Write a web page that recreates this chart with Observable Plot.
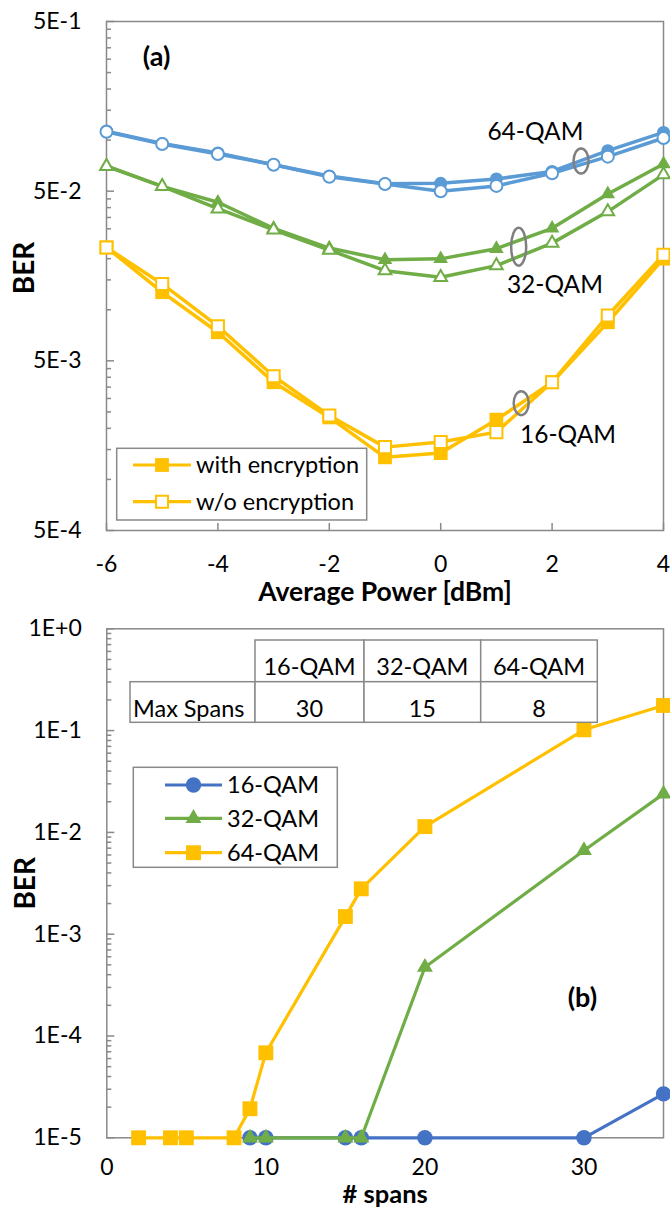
<!DOCTYPE html>
<html>
<head>
<meta charset="utf-8">
<script src="https://cdn.jsdelivr.net/npm/d3@7"></script>
<script src="https://cdn.jsdelivr.net/npm/@observablehq/plot@0.6"></script>
<style>
  html, body { margin: 0; padding: 0; background: #fff; }
  #panel-a, #panel-b { width: 670px; }
  svg { display: block; }
</style>
</head>
<body>
<div id="panel-a"></div>
<div id="panel-b"></div>
<script>
// ---------- Panel (a): BER vs average launch power ----------
const powerDbm = [-6, -5, -4, -3, -2, -1, 0, 1, 2, 3, 4];
const ber64Enc   = [0.113, 0.0955, 0.084, 0.0716, 0.0615, 0.0553, 0.0556, 0.059, 0.0654, 0.0866, 0.111];
const ber64NoEnc = [0.112, 0.0948, 0.0828, 0.0716, 0.0608, 0.0551, 0.0499, 0.0537, 0.0637, 0.0799, 0.1029];
const ber32Enc   = [0.0705, 0.0534, 0.043, 0.0302, 0.0231, 0.0197, 0.01995, 0.0229, 0.0302, 0.0481, 0.0723];
const ber32NoEnc = [0.070, 0.0534, 0.0394, 0.0296, 0.0225, 0.0170, 0.01554, 0.0182, 0.0247, 0.0379, 0.0626];
const ber16Enc   = [0.0233, 0.0127, 0.00737, 0.00374, 0.00232, 0.00135, 0.00143, 0.00225, 0.00374, 0.00844, 0.0200];
const ber16NoEnc = [0.0233, 0.0142, 0.0080, 0.00406, 0.00238, 0.00155, 0.00166, 0.0019, 0.00374, 0.00925, 0.0211];
const powerTicks = [-6, -4, -2, 0, 2, 4];
const berTicksA = [5e-4, 5e-3, 5e-2, 5e-1];
const legendA = ["with encryption", "w/o encryption"];
const groupLabelsA = ["64-QAM", "32-QAM", "16-QAM"];
const groupLabelX = [1.70, 2.05, 2.285];
const groupLabelY = [0.112, 0.01388, 0.001816];
const groupRingX = [2.52, 1.40, 1.445];
const groupRingY = [0.0753, 0.02355, 0.002815];
const groupRingRy = [12.5, 19, 12];

// ---------- Panel (b): BER vs number of spans ----------
const spans16 = [9, 10, 15, 16, 20, 30, 35];
const ber16   = [1e-5, 1e-5, 1e-5, 1e-5, 1e-5, 1e-5, 2.7e-5];
const spans32 = [9, 10, 15, 16, 20, 30, 35];
const ber32   = [1e-5, 1e-5, 1e-5, 1e-5, 4.74e-4, 6.64e-3, 2.39e-2];
const spans64 = [2, 4, 5, 8, 9, 10, 15, 16, 20, 30, 35];
const ber64   = [1e-5, 1e-5, 1e-5, 1e-5, 1.93e-5, 6.84e-5, 1.49e-3, 2.79e-3, 1.14e-2, 0.1018, 0.1765];
const spanTicks = [0, 10, 20, 30];
const berTicksB = [1e-5, 1e-4, 1e-3, 1e-2, 1e-1, 1];
const legendB = ["16-QAM", "32-QAM", "64-QAM"];
const tableHeader = ["16-QAM", "32-QAM", "64-QAM"];
const tableRowLabel = "Max Spans";
const maxSpans = [30, 15, 8];

// ---------- shared styling ----------
const FONT = "Lato, 'Open Sans', sans-serif";
const AXIS = "#898989";
const RING = "#7f7f7f";
const BLUE_A = "#5B9BD5", GREEN = "#70AD47", GOLD = "#FFC000", BLUE_B = "#4472C4";
const TICK_FONT = "23px";
const BOX_FONT = 23.5;
const TITLE_FONT = 26.5;

const rows = (xs, ys) => xs.map((x, i) => ({x, y: ys[i]}));
const sciLabel = v => {
  const e = Math.floor(Math.log10(v) + 1e-9);
  const m = Math.round(v / Math.pow(10, e));
  return `${m}E${e >= 0 ? "+" : "-"}${Math.abs(e)}`;
};
const plainLabel = d => `${d}`;
const minorTicks = majors => majors.slice(0, -1).flatMap(t => [2, 3, 4, 5, 6, 7, 8, 9].map(m => t * m));

// closed ellipse drawn as a custom dot symbol (radii in pixels)
function ellipseSymbol(rx, ry) {
  const k = 0.5523;
  return {
    draw(ctx) {
      ctx.moveTo(rx, 0);
      ctx.bezierCurveTo(rx, ry * k, rx * k, ry, 0, ry);
      ctx.bezierCurveTo(-rx * k, ry, -rx, ry * k, -rx, 0);
      ctx.bezierCurveTo(-rx, -ry * k, -rx * k, -ry, 0, -ry);
      ctx.bezierCurveTo(rx * k, -ry, rx, -ry * k, rx, 0);
      ctx.closePath();
    }
  };
}

// line + markers for one series
function series(data, color, symbol, r, filled, strokeWidth = 3.2) {
  return [
    Plot.line(data, {x: "x", y: "y", stroke: color, strokeWidth}),
    Plot.dot(data, {
      x: "x", y: "y", symbol, r,
      fill: filled ? color : "#fff",
      stroke: filled ? "none" : color,
      strokeWidth: filled ? 0 : 2
    })
  ];
}

// bold axis titles, centred on the plotting frame
const xTitle = (t, dy, size = TITLE_FONT) => Plot.text([t], {
  frameAnchor: "bottom", dy, textAnchor: "middle", lineAnchor: "middle", fontWeight: "bold", fontSize: size
});
const yTitle = (t, dy) => Plot.text([t], {
  frameAnchor: "left", dx: -81, dy, rotate: -90, textAnchor: "middle", lineAnchor: "middle", fontWeight: "bold", fontSize: 28
});

// ---------- draw panel (a) ----------
const chartA = Plot.plot({
  width: 670, height: 610,
  marginLeft: 106, marginRight: 7, marginTop: 21, marginBottom: 80,
  style: {fontFamily: FONT, fontSize: TICK_FONT, color: "#000", overflow: "visible", background: "#fff"},
  x: {domain: [-6, 4]},
  y: {type: "log", domain: [5e-4, 0.5]},
  marks: [
    Plot.frame({stroke: AXIS, strokeWidth: 1.5}),
    Plot.axisY(minorTicks(berTicksA), {tickSize: 5, dx: 5, fill: "none", stroke: AXIS, strokeWidth: 1.5, label: null}),
    Plot.axisY(berTicksA, {tickSize: 8, dx: 8, tickPadding: 25, tickFormat: sciLabel, stroke: AXIS, strokeWidth: 1.5, label: null}),
    Plot.axisX(powerTicks, {tickSize: 7, dy: -7, tickPadding: 25, tickFormat: plainLabel, stroke: AXIS, strokeWidth: 1.5, label: null}),
    xTitle("Average Power [dBm]", 62),
    yTitle("BER", -8),
    Plot.text(["(a)"], {x: -5.1, y: 0.3055, fontWeight: "bold", fontSize: 27}),
    ...series(rows(powerDbm, ber64Enc), BLUE_A, "circle", 6.5, true, 3.5),
    ...series(rows(powerDbm, ber64NoEnc), BLUE_A, "circle", 6, false, 3.5),
    ...series(rows(powerDbm, ber32Enc), GREEN, "triangle", 5.4, true, 3.5),
    ...series(rows(powerDbm, ber32NoEnc), GREEN, "triangle", 4.7, false, 3.5),
    ...series(rows(powerDbm, ber16Enc), GOLD, "square", 7.8, true, 3.5),
    ...series(rows(powerDbm, ber16NoEnc), GOLD, "square", 6.8, false, 3.5),
    ...groupRingX.map((x, i) => Plot.dot([{x, y: groupRingY[i]}], {
      x: "x", y: "y", symbol: ellipseSymbol(7.5, groupRingRy[i]), fill: "none", stroke: RING, strokeWidth: 2.5
    })),
    Plot.text(groupLabelsA.map((t, i) => ({t, x: groupLabelX[i], y: groupLabelY[i]})), {
      x: "x", y: "y", text: "t", fontSize: 24.5
    })
  ]
});
document.getElementById("panel-a").append(chartA);

// ---------- draw panel (b) ----------
const chartB = Plot.plot({
  width: 670, height: 597,
  marginLeft: 106.3, marginRight: 7, marginTop: 18.3, marginBottom: 69.7,
  style: {fontFamily: FONT, fontSize: TICK_FONT, color: "#000", overflow: "visible", background: "#fff"},
  x: {domain: [0, 35]},
  y: {type: "log", domain: [1e-5, 1]},
  marks: [
    Plot.frame({stroke: AXIS, strokeWidth: 1.5}),
    Plot.axisY(minorTicks(berTicksB), {tickSize: 5, dx: 5, fill: "none", stroke: AXIS, strokeWidth: 1.5, label: null}),
    Plot.axisY(berTicksB, {tickSize: 8, dx: 8, tickPadding: 25, tickFormat: sciLabel, stroke: AXIS, strokeWidth: 1.5, label: null}),
    Plot.axisX(spanTicks, {tickSize: 0, tickPadding: 21, tickFormat: plainLabel, label: null}),
    xTitle("# spans", 57, 25.5),
    yTitle("BER", 0),
    Plot.text(["(b)"], {x: 29.9, y: 2.33e-4, fontWeight: "bold", fontSize: 27}),
    ...series(rows(spans16, ber16), BLUE_B, "circle", 7.7, true),
    ...series(rows(spans32, ber32), GREEN, "triangle", 5.9, true),
    ...series(rows(spans64, ber64), GOLD, "square", 8.4, true)
  ]
});
document.getElementById("panel-b").append(chartB);

// ---------- legends and table ----------
const symbolPath = (type, r) => d3.symbol(type, Math.PI * r * r)();

function legendBox(svg, box, entries) {
  const g = d3.select(svg).append("g")
    .attr("font-family", FONT).attr("font-size", BOX_FONT).attr("text-anchor", "start");
  g.append("rect").attr("x", box.x).attr("y", box.y).attr("width", box.w).attr("height", box.h)
    .attr("fill", "#fff").attr("stroke", AXIS).attr("stroke-width", 1.5);
  entries.forEach((e, i) => {
    const y = box.rowY[i];
    g.append("line").attr("x1", box.lineX1).attr("x2", box.lineX2).attr("y1", y).attr("y2", y)
      .attr("stroke", e.color).attr("stroke-width", 3.2);
    g.append("path").attr("d", symbolPath(e.type, e.r))
      .attr("transform", `translate(${(box.lineX1 + box.lineX2) / 2},${y})`)
      .attr("fill", e.filled ? e.color : "#fff")
      .attr("stroke", e.filled ? "none" : e.color).attr("stroke-width", 2);
    g.append("text").attr("x", box.textX).attr("y", y).attr("dy", "0.35em").text(e.label);
  });
}

legendBox(chartA, {x: 116.7, y: 448.3, w: 250, h: 71.7, rowY: [465, 501.7], lineX1: 133, lineX2: 191, textX: 196}, [
  {label: legendA[0], color: GOLD, type: d3.symbolSquare, r: 7.8, filled: true},
  {label: legendA[1], color: GOLD, type: d3.symbolSquare, r: 6.8, filled: false}
]);

legendBox(chartB, {x: 133.3, y: 157.3, w: 204, h: 100, rowY: [175, 208.3, 242.7], lineX1: 165, lineX2: 222, textX: 227}, [
  {label: legendB[0], color: BLUE_B, type: d3.symbolCircle, r: 7.7, filled: true},
  {label: legendB[1], color: GREEN, type: d3.symbolTriangle, r: 5.9, filled: true},
  {label: legendB[2], color: GOLD, type: d3.symbolSquare, r: 8.4, filled: true}
]);

// max-span table
(function table(svg) {
  const g = d3.select(svg).append("g").attr("font-family", FONT).attr("font-size", BOX_FONT);
  const colX = [130, 255, 364, 480.7, 597.3];
  const rowY = [30, 71.7, 112.3];
  const cell = (x0, x1, y0, y1) => g.append("rect").attr("x", x0).attr("y", y0)
    .attr("width", x1 - x0).attr("height", y1 - y0)
    .attr("fill", "#fff").attr("stroke", AXIS).attr("stroke-width", 1.5);
  cell(colX[0], colX[1], rowY[1], rowY[2]);
  for (let c = 0; c < 3; c++) {
    cell(colX[c + 1], colX[c + 2], rowY[0], rowY[1]);
    cell(colX[c + 1], colX[c + 2], rowY[1], rowY[2]);
  }
  g.append("text").attr("x", colX[0] + 3).attr("y", 106.5).attr("text-anchor", "start").text(tableRowLabel);
  tableHeader.forEach((t, c) => {
    const cx = (colX[c + 1] + colX[c + 2]) / 2;
    g.append("text").attr("x", cx).attr("y", 65).attr("text-anchor", "middle").text(t);
    g.append("text").attr("x", cx).attr("y", 106.5).attr("text-anchor", "middle").text(maxSpans[c]);
  });
})(chartB);
</script>
</body>
</html>
